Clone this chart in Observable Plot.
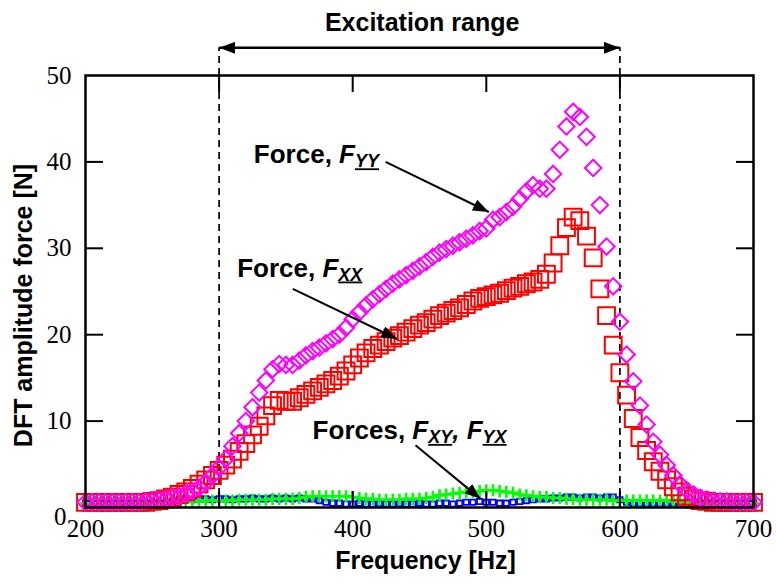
<!DOCTYPE html>
<html><head><meta charset="utf-8">
<script src="https://cdn.jsdelivr.net/npm/d3@7"></script>
<script src="https://cdn.jsdelivr.net/npm/@observablehq/plot@0.6"></script>
<style>body{margin:0;background:#fff}</style>
</head><body><div id="chart"></div>
<script>
const frequency = [200,205,210,215,220,225,230,235,240,245,250,255,260,265,270,275,280,285,290,295,300,305,310,315,320,325,330,335,340,345,350,355,360,365,370,375,380,385,390,395,400,405,410,415,420,425,430,435,440,445,450,455,460,465,470,475,480,485,490,495,500,505,510,515,520,525,530,535,540,545,550,555,560,565,570,575,580,585,590,595,600,605,610,615,620,625,630,635,640,645,650,655,660,665,670,675,680,685,690,695,700];
const forceYY = [0.6,0.6,0.6,0.6,0.6,0.6,0.6,0.6,0.6,
  0.7,0.8,0.9,1.0,1.2,1.3,1.6,1.9,2.3,2.9,
  3.7,4.6,5.6,7.1,8.6,10.0,11.6,13.3,14.7,16.0,
  16.6,16.5,16.5,17.0,17.6,18.1,18.5,19.0,19.5,20.0,
  20.8,21.8,22.6,23.4,24.1,24.7,25.3,25.9,26.4,26.9,
  27.4,27.9,28.4,29.0,29.5,29.9,30.3,30.7,31.1,31.5,
  32.0,32.3,33.3,33.6,34.2,34.8,35.7,36.6,37.3,36.9,
  36.9,38.6,41.4,44.1,45.8,45.2,42.9,39.3,35.0,30.2,
  25.6,21.5,17.7,14.6,11.8,9.6,7.6,6.1,4.9,3.7,
  2.7,2.0,1.5,1.1,0.9,0.8,0.7,0.7,0.6,0.6,
  0.6,0.6];
const forceXX = [0.6,0.6,0.6,0.6,0.6,0.6,0.6,0.6,0.6,
  0.6,0.7,0.8,1.0,1.2,1.5,1.8,2.2,2.7,3.2,
  3.7,4.3,4.9,5.6,6.5,7.4,8.4,9.4,10.6,11.8,
  12.4,12.3,12.3,12.7,13.1,13.5,13.9,14.3,14.7,15.2,
  15.8,16.5,17.3,17.9,18.4,18.8,19.2,19.6,19.9,20.3,
  20.7,21.1,21.4,21.8,22.2,22.5,22.8,23.1,23.5,23.9,
  24.2,24.4,24.6,24.8,25.1,25.4,25.6,25.9,26.1,26.4,
  27.0,28.3,30.3,32.4,33.6,33.2,31.4,28.9,25.3,22.2,
  18.8,15.6,13.0,10.3,8.1,6.6,5.3,4.2,3.2,2.4,
  1.8,1.3,1.0,0.8,0.7,0.6,0.6,0.6,0.6,0.6,
  0.6,0.6];
const forceXY = [0.5,0.5,0.5,0.5,0.5,0.5,0.5,0.5,0.5,
  0.5,0.5,0.5,0.5,0.7,0.9,1.0,0.9,1.0,1.0,
  0.9,1.0,1.0,0.9,1.0,1.0,1.1,1.0,1.0,1.1,
  1.0,1.1,1.0,1.1,1.0,1.0,0.8,0.6,0.5,0.5,
  0.4,0.4,0.5,0.4,0.4,0.5,0.4,0.4,0.5,0.4,
  0.4,0.5,0.4,0.4,0.5,0.5,0.4,0.5,0.6,0.6,
  0.7,0.6,0.6,0.5,0.5,0.6,0.7,0.8,0.9,1.0,
  1.0,1.1,1.1,1.2,1.2,1.1,1.2,1.2,1.1,1.2,
  1.2,0.9,0.6,0.5,0.5,0.5,0.5,0.5,0.5,0.5,
  0.5,0.5,0.5,0.5,0.5,0.5,0.5,0.5,0.5,0.5,
  0.5,0.5];
const forceYX = [0.5,0.5,0.5,0.5,0.5,0.5,0.5,0.5,0.5,
  0.5,0.5,0.5,0.5,0.6,0.7,0.7,0.7,0.8,0.8,
  0.8,0.8,0.8,0.8,0.9,0.9,0.9,0.9,0.9,1.0,
  1.0,1.0,1.0,1.1,1.2,1.3,1.3,1.3,1.3,1.3,
  1.3,1.2,1.1,1.0,1.0,0.9,0.9,0.9,0.9,1.0,
  1.0,1.0,1.1,1.2,1.4,1.5,1.6,1.7,1.8,1.8,
  1.9,2.0,2.0,1.9,1.8,1.7,1.5,1.4,1.3,1.2,
  1.2,1.1,1.1,1.0,1.0,0.9,0.9,0.9,0.9,0.9,
  0.8,0.8,0.8,0.8,0.8,0.8,0.8,0.8,0.8,0.7,
  0.7,0.6,0.5,0.5,0.5,0.5,0.5,0.5,0.5,0.5,
  0.5,0.5];
const xTickLabels = [200,300,400,500,600,700];
const xInnerTicks = [300,400,500,600];
const yTickLabels = [10,20,30,40,50];
const yInnerTicks = [10,20,30,40];
const excitationRange = [300,600];
const excitationLabel = "Excitation range";
const annotations = [
  {label:"Force, F_YY", x:326, y:40.8, x1:424.6, y1:40.0, x2:501.9, y2:34.2},
  {label:"Force, F_XX", x:313.5, y:27.7, x1:355.2, y1:25.3, x2:433.3, y2:19.5},
  {label:"Forces, F_XY, F_YX", x:370, y:8.9, x1:447, y1:7.2, x2:495.7, y2:1.0}
];

const rows = frequency.map((f,i)=>({f, yy:forceYY[i], xx:forceXX[i], xy:forceXY[i], yx:forceYX[i]}));
const sans = "Liberation Sans, Arial, sans-serif";
const serif = "Liberation Serif, Times New Roman, serif";
const arrowY = 53.2, labelY = 56.1;

const svg = Plot.plot({
  width:776, height:586,
  marginLeft:85, marginRight:23, marginTop:75, marginBottom:79,
  x:{domain:[200,700]},
  y:{domain:[0,50]},
  style:{background:"white", color:"black"},
  marks:[
    Plot.ruleX(excitationRange, {x:d=>d, y1:0, y2:arrowY, stroke:"black", strokeWidth:1.7, strokeDasharray:"7,5"}),
    Plot.dot(rows, {x:"f", y:"xy", symbol:"square", r:3, fill:"none", stroke:"#0000ff", strokeWidth:1.8}),
    Plot.dot(rows, {x:"f", y:"yx", symbol:"plus", r:4, fill:"none", stroke:"#00ff00", strokeWidth:2.6}),
    Plot.dot(rows, {x:"f", y:"xx", symbol:"square", r:9.5, fill:"none", stroke:"#ff0000", strokeWidth:2}),
    Plot.dot(rows, {x:"f", y:"yy", symbol:"diamond2", r:7.4, fill:"none", stroke:"#ff00ff", strokeWidth:2}),
    Plot.frame({stroke:"black", strokeWidth:2.5}),
    Plot.axisX(xInnerTicks, {anchor:"bottom", tickSize:-16, tickFormat:()=>"", strokeWidth:2}),
    Plot.axisX(xInnerTicks, {anchor:"top", tickSize:-16, tickFormat:()=>"", strokeWidth:2}),
    Plot.axisY(yInnerTicks, {anchor:"left", tickSize:-18, tickFormat:()=>"", strokeWidth:2}),
    Plot.axisY(yInnerTicks, {anchor:"right", tickSize:-18, tickFormat:()=>"", strokeWidth:2}),
    Plot.axisX(xTickLabels, {anchor:"bottom", tickSize:0, tickPadding:12, fontSize:25, fontFamily:serif, label:null}),
    Plot.axisY(yTickLabels, {anchor:"left", tickSize:0, tickPadding:14, fontSize:25, fontFamily:serif, label:null}),
    Plot.axisY([0], {anchor:"left", tickSize:0, tickPadding:19, dy:9, fontSize:25, fontFamily:serif, label:null}),
    Plot.text(["Frequency [Hz]"], {frameAnchor:"bottom", dx:6, dy:61, fontSize:25, fontWeight:"bold", fontFamily:sans}),
    Plot.text(["DFT amplitude force [N]"], {frameAnchor:"left", textAnchor:"middle", dx:-62, dy:14, rotate:-90, fontSize:25, fontWeight:"bold", fontFamily:sans}),
    Plot.text([excitationLabel], {x:452, y:labelY, fontSize:25, fontWeight:"bold", fontFamily:sans}),
    Plot.link([excitationRange], {x1:d=>d[0], x2:d=>d[1], y1:arrowY, y2:arrowY, stroke:"black", strokeWidth:2.5}),
    Plot.text(annotations, {x:"x", y:"y", text:"label", textAnchor:"start", fontSize:26, fontWeight:"bold", fontFamily:sans}),
    Plot.link(annotations, {x1:"x1", y1:"y1", x2:"x2", y2:"y2", stroke:"black", strokeWidth:2})
  ]
});

const s = d3.select(svg);
const defs = s.insert("defs", ":first-child");
defs.append("marker").attr("id","tri").attr("viewBox","0 0 16 12").attr("refX",16).attr("refY",6)
  .attr("markerWidth",16).attr("markerHeight",12).attr("markerUnits","userSpaceOnUse")
  .attr("orient","auto-start-reverse")
  .append("path").attr("d","M0,0L16,6L0,12Z").attr("fill","black");

const linkGroups = s.selectAll('g[aria-label="link"]').nodes();
if (linkGroups.length >= 2) {
  d3.select(linkGroups[0]).selectAll("path").attr("marker-start","url(#tri)").attr("marker-end","url(#tri)");
  d3.select(linkGroups[1]).selectAll("path").attr("marker-end","url(#tri)");
}

s.selectAll("text").filter(function(){ return this.textContent.includes("F_"); }).each(function(){
  const str = this.textContent;
  const t = d3.select(this);
  t.selectAll("*").remove();
  t.text(null);
  const parts = str.split(/(F_[A-Z]+)/);
  let shifted = false, seenF = false;
  for (const p of parts) {
    if (!p) continue;
    const m = p.match(/^F_([A-Z]+)$/);
    if (m) {
      t.append("tspan").attr("font-style","italic").text("F");
      t.append("tspan").attr("font-style","italic").attr("font-size",18).attr("dy",4)
        .attr("text-decoration","underline").text(m[1]);
      shifted = true; seenF = true;
    } else {
      const ts = t.append("tspan").attr("font-style", seenF ? "italic" : "normal").text(p);
      if (shifted) ts.attr("dy",-4);
      shifted = false;
    }
  }
});

document.getElementById("chart").appendChild(svg);
</script>
</body></html>
